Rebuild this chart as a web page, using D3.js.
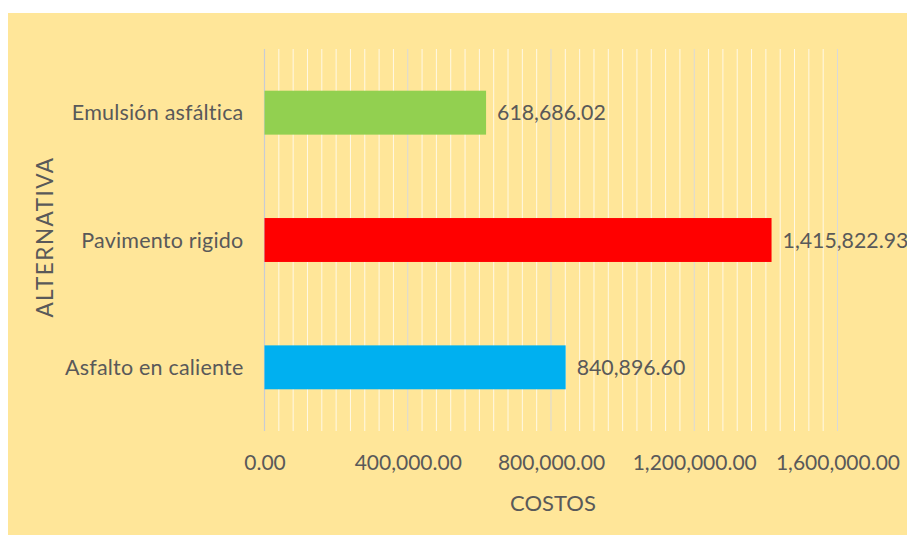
<!DOCTYPE html>
<html>
<head>
<meta charset="utf-8">
<script src="https://cdn.jsdelivr.net/npm/d3@7"></script>
<style>
  html, body { margin: 0; padding: 0; background: #ffffff; }
  svg { display: block; }
  text { font-family: Lato, "Open Sans", sans-serif; fill: #595959; }
</style>
</head>
<body>
<svg id="chart" width="907" height="535"></svg>
<script>
// Costs per paving alternative
const categories = ["Emulsión asfáltica", "Pavimento rigido", "Asfalto en caliente"];
const costs = [618686.02, 1415822.93, 840896.60];
const barColors = ["#92D050", "#FF0000", "#00B0F0"];
const tickValues = [0, 400000, 800000, 1200000, 1600000];
const xTitle = "COSTOS";
const yTitle = "ALTERNATIVA";

const svg = d3.select("#chart");
const W = 907, H = 535;

// chart area fill
svg.append("rect")
  .attr("x", 8).attr("y", 13)
  .attr("width", W - 8).attr("height", H - 13)
  .attr("fill", "#FFE699");

const plot = { left: 264.5, right: 837.5, top: 49, bottom: 431 };

const x = d3.scaleLinear().domain([0, 1600000]).range([plot.left, plot.right]);
const y = d3.scaleBand().domain(categories)
  .range([plot.top, plot.bottom])
  .paddingInner(0.655).paddingOuter(0.3275);

// minor gridlines every 40,000
const minor = d3.range(40000, 1600000, 40000).filter(v => v % 400000 !== 0);
svg.append("g").selectAll("line").data(minor).join("line")
  .attr("x1", d => x(d)).attr("x2", d => x(d))
  .attr("y1", plot.top).attr("y2", plot.bottom)
  .attr("stroke", "#FFFFFF").attr("stroke-opacity", 0.75).attr("stroke-width", 1);

// major gridlines
svg.append("g").selectAll("line").data(tickValues.slice(1)).join("line")
  .attr("x1", d => x(d)).attr("x2", d => x(d))
  .attr("y1", plot.top).attr("y2", plot.bottom)
  .attr("stroke", "#D9D9D9").attr("stroke-width", 1);

// category axis line
svg.append("line")
  .attr("x1", x(0)).attr("x2", x(0))
  .attr("y1", plot.top).attr("y2", plot.bottom)
  .attr("stroke", "#C8CCD4").attr("stroke-width", 1.2);

// bars
svg.append("g").selectAll("rect").data(categories).join("rect")
  .attr("x", x(0))
  .attr("y", d => y(d))
  .attr("width", (d, i) => x(costs[i]) - x(0))
  .attr("height", y.bandwidth())
  .attr("fill", (d, i) => barColors[i]);

const fmt = d3.format(",.2f");

// value labels
svg.append("g").selectAll("text").data(categories).join("text")
  .attr("x", (d, i) => x(costs[i]) + 11)
  .attr("y", d => y(d) + y.bandwidth() / 2)
  .attr("dy", "0.36em")
  .attr("font-size", 21.3)
  .text((d, i) => fmt(costs[i]));

// category labels
svg.append("g").selectAll("text").data(categories).join("text")
  .attr("x", plot.left - 21)
  .attr("y", d => y(d) + y.bandwidth() / 2)
  .attr("dy", "0.36em")
  .attr("text-anchor", "end")
  .attr("font-size", 21.5)
  .attr("letter-spacing", 0.2)
  .text(d => d);

// value axis tick labels
const xAxis = d3.axisBottom(x).tickValues(tickValues).tickFormat(fmt).tickSize(0).tickPadding(0);
const gx = svg.append("g").attr("transform", `translate(0,${plot.bottom})`).call(xAxis);
gx.select(".domain").remove();
gx.selectAll("text")
  .attr("y", 31)
  .attr("dy", "0.36em")
  .attr("font-size", 21)
  .attr("font-family", "Lato, sans-serif")
  .attr("fill", "#595959");

// axis titles
svg.append("text")
  .attr("x", (plot.left + plot.right) / 2 + 2)
  .attr("y", 503).attr("dy", "0.36em")
  .attr("text-anchor", "middle")
  .attr("font-size", 22)
  .text(xTitle);

svg.append("text")
  .attr("transform", `translate(45,${(plot.top + plot.bottom) / 2 - 3}) rotate(-90)`)
  .attr("dy", "0.36em")
  .attr("text-anchor", "middle")
  .attr("font-size", 22.5)
  .attr("letter-spacing", 1.5)
  .text(yTitle);
</script>
</body>
</html>
